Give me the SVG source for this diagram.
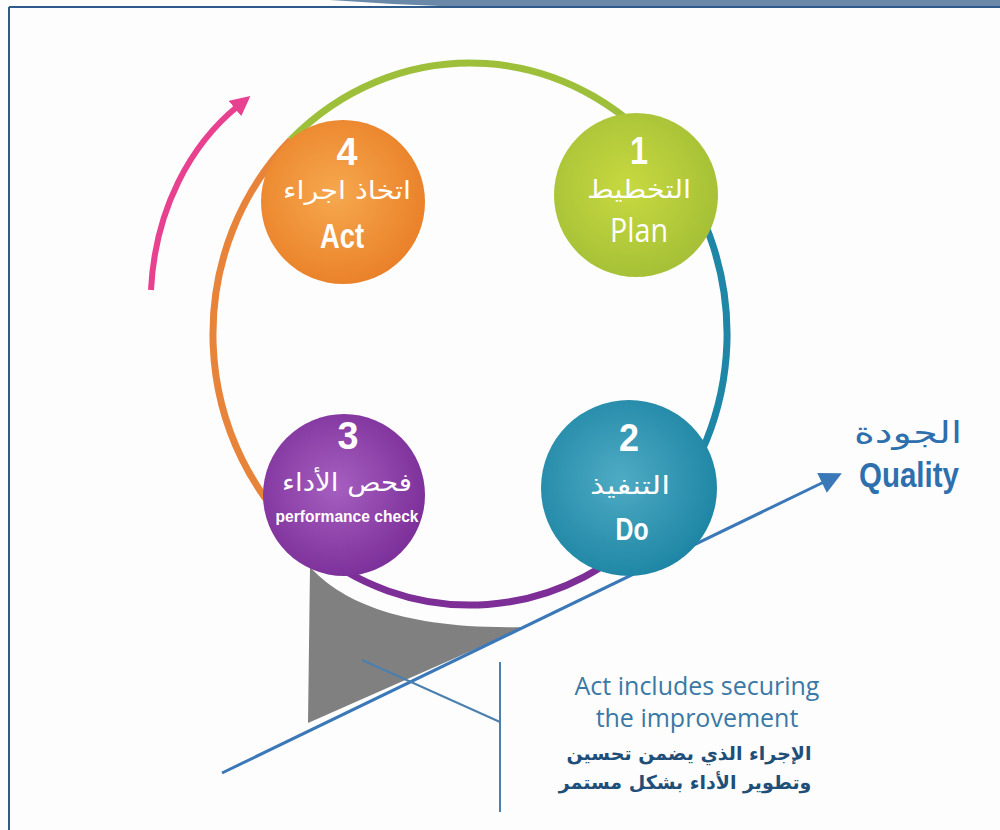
<svg xmlns="http://www.w3.org/2000/svg" width="1000" height="830" viewBox="0 0 1000 830">
<style>
.ring{fill:none;stroke-width:7;stroke-linecap:butt}
.num{font-family:"Liberation Sans",Arial,sans-serif;font-weight:bold;fill:#fff;text-anchor:middle;font-size:39px}
.cond{font-family:"Liberation Sans",Arial,sans-serif;font-weight:bold;fill:#fff;text-anchor:middle}
.ar{font-family:"DejaVu Sans",sans-serif;fill:#fff;text-anchor:middle;font-size:25px}
.reg{font-family:"Open Sans","Noto Sans",sans-serif;fill:#fff;text-anchor:middle}
.note{font-family:"Open Sans","Noto Sans",sans-serif;fill:#3a78a6;text-anchor:middle;font-size:25px}
.notear{font-family:"DejaVu Sans",sans-serif;font-weight:bold;fill:#1f4e79;text-anchor:middle;font-size:19px}
.thin{stroke:#4a7fae;stroke-width:2;fill:none}
</style>
<defs>
<radialGradient id="gOr" cx="45%" cy="45%" r="60%"><stop offset="0" stop-color="#f6a84e"/><stop offset="1" stop-color="#e97f27"/></radialGradient>
<radialGradient id="gGr" cx="45%" cy="45%" r="60%"><stop offset="0" stop-color="#c8d940"/><stop offset="1" stop-color="#a3bf36"/></radialGradient>
<radialGradient id="gTe" cx="45%" cy="45%" r="60%"><stop offset="0" stop-color="#4fabc4"/><stop offset="1" stop-color="#1b84a3"/></radialGradient>
<radialGradient id="gPu" cx="45%" cy="45%" r="60%"><stop offset="0" stop-color="#a65fc0"/><stop offset="1" stop-color="#7a2d97"/></radialGradient>
<marker id="mBlue" viewBox="0 0 10 10" refX="2" refY="5" markerWidth="24" markerHeight="22" markerUnits="userSpaceOnUse" orient="auto"><path d="M0,0 L10,5 L0,10 Z" fill="#3a78b8"/></marker>
<marker id="mPink" viewBox="0 0 10 10" refX="2" refY="5" markerWidth="20" markerHeight="20" markerUnits="userSpaceOnUse" orient="auto"><path d="M0,0 L10,5 L0,10 Z" fill="#e8418f"/></marker>
</defs>
<rect width="1000" height="830" fill="#fdfdfd"/>
<g id="frame">
<path d="M330,0 L1000,0 L1000,6 L440,6 Q385,4 330,0 Z" fill="#6a89a8"/>
<line x1="9" y1="7" x2="1000" y2="7" stroke="#2f5b8c" stroke-width="2"/>
<line x1="9" y1="7" x2="9" y2="830" stroke="#2f5b8c" stroke-width="2"/>
</g>
<g id="ring">
<path class="ring" stroke="#9dbf3a" d="M290.6,140 A257,271 0 0 1 671.5,165.7"/>
<path class="ring" stroke="#1e86a6" d="M671.5,165.7 A257,271 0 0 1 658.9,517.8"/>
<path class="ring" stroke="#7d2e97" d="M658.9,517.8 A257,271 0 0 1 306.5,543.2"/>
<path class="ring" stroke="#e8843a" d="M306.5,543.2 A257,271 0 0 1 290.6,140"/>
</g>
<g id="wedge">
<path d="M310,567 C340,600 400,630 525,627 L308,723 Z" fill="#808080"/>
</g>
<g id="connectors">
<line x1="222" y1="773" x2="826" y2="481" stroke="#3a78b8" stroke-width="3" marker-end="url(#mBlue)"/>
<path d="M151,290 C155,210 190,145 238,106" stroke="#e8418f" stroke-width="6" fill="none" marker-end="url(#mPink)"/>
<line class="thin" x1="362" y1="660" x2="500" y2="722"/>
<line class="thin" x1="500" y1="662" x2="500" y2="812"/>
</g>
<g id="node-act">
<circle cx="343" cy="202" r="82" fill="url(#gOr)"/>
<text class="num" x="347" y="165" textLength="21" lengthAdjust="spacingAndGlyphs">4</text>
<text class="ar" x="347" y="199" textLength="128" lengthAdjust="spacingAndGlyphs">اتخاذ اجراء</text>
<text class="cond" x="342" y="248" font-size="35" textLength="44" lengthAdjust="spacingAndGlyphs">Act</text>
</g>
<g id="node-plan">
<circle cx="636" cy="195" r="82" fill="url(#gGr)"/>
<text class="num" x="639" y="164" textLength="18" lengthAdjust="spacingAndGlyphs">1</text>
<text class="ar" x="639" y="198" textLength="104" lengthAdjust="spacingAndGlyphs">التخطيط</text>
<text class="reg" x="639" y="242" font-size="32" textLength="58" lengthAdjust="spacingAndGlyphs">Plan</text>
</g>
<g id="node-do">
<circle cx="629" cy="488" r="88" fill="url(#gTe)"/>
<text class="num" x="629" y="451" textLength="20" lengthAdjust="spacingAndGlyphs">2</text>
<text class="ar" x="630" y="494" font-size="23" textLength="80" lengthAdjust="spacingAndGlyphs">التنفيذ</text>
<text class="cond" x="632" y="540" font-size="32" textLength="33" lengthAdjust="spacingAndGlyphs">Do</text>
</g>
<g id="node-check">
<circle cx="344" cy="495" r="81" fill="url(#gPu)"/>
<text class="num" x="348" y="449" textLength="21" lengthAdjust="spacingAndGlyphs">3</text>
<text class="ar" x="347" y="491" textLength="130" lengthAdjust="spacingAndGlyphs">فحص الأداء</text>
<text class="cond" x="347" y="522" font-size="17" textLength="143" lengthAdjust="spacingAndGlyphs">performance check</text>
</g>
<g id="quality">
<text x="908" y="443" font-family="DejaVu Sans,sans-serif" font-size="30" fill="#2e6fae" text-anchor="middle" textLength="108" lengthAdjust="spacingAndGlyphs">الجودة</text>
<text x="909" y="487" font-family="Liberation Sans,Arial,sans-serif" font-weight="bold" font-size="35" fill="#2e6fae" text-anchor="middle" textLength="100" lengthAdjust="spacingAndGlyphs">Quality</text>
</g>
<g id="note">
<text class="note" x="697" y="695">Act includes securing</text>
<text class="note" x="697" y="727">the improvement</text>
<text class="notear" x="689" y="760">الإجراء الذي يضمن تحسين</text>
<text class="notear" x="685" y="789">وتطوير الأداء بشكل مستمر</text>
</g>
</svg>
